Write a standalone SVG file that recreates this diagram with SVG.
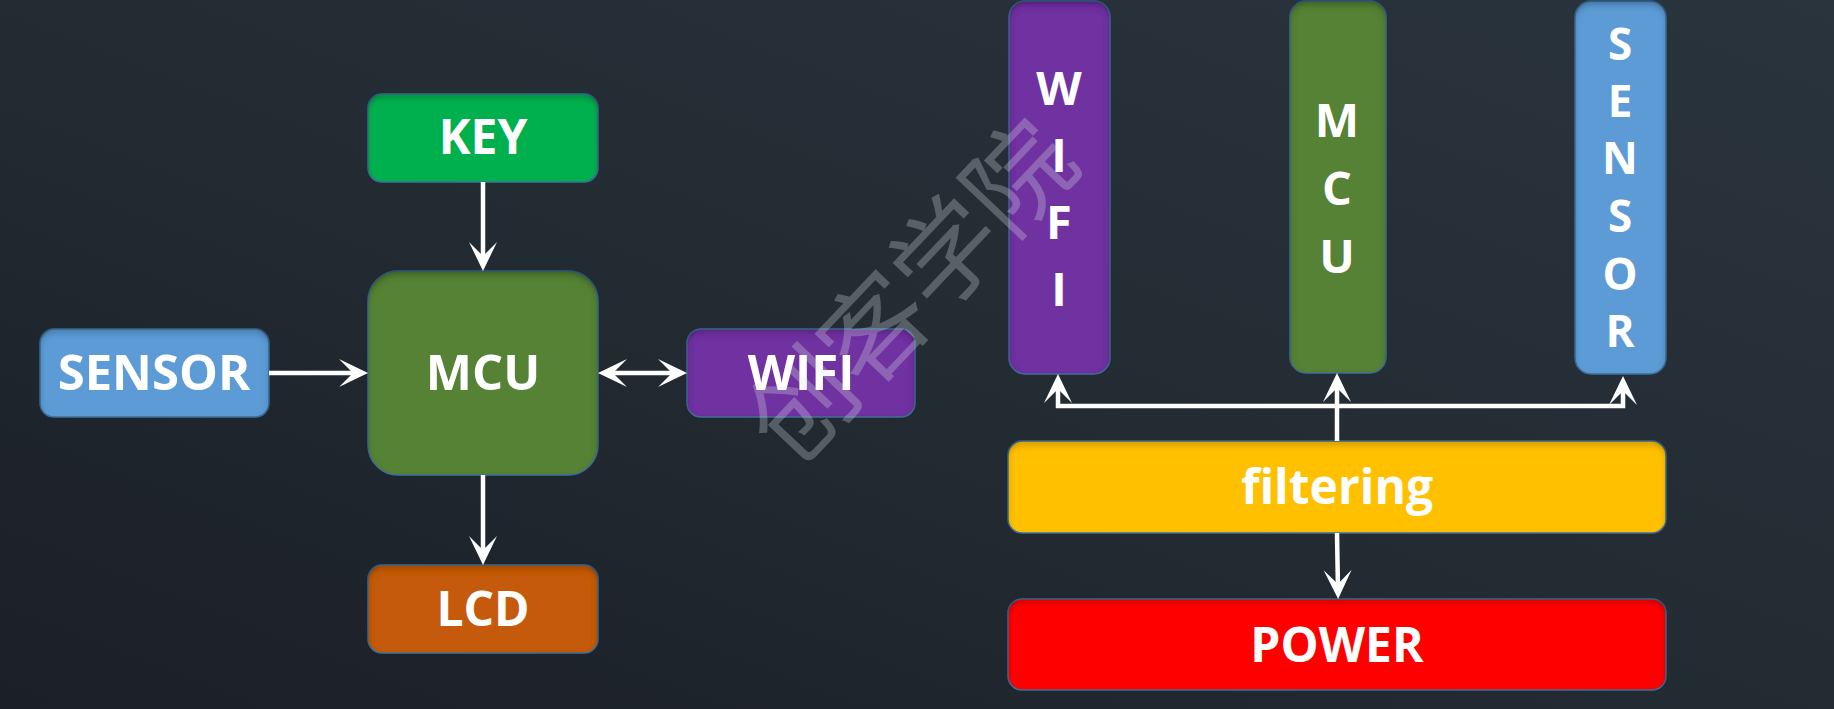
<svg xmlns="http://www.w3.org/2000/svg" width="1834" height="709" viewBox="0 0 1834 709">
<defs>
<linearGradient id="bg" x1="0" y1="1" x2="1" y2="0">
<stop offset="0" stop-color="#1b1f26"/>
<stop offset="0.5" stop-color="#232b33"/>
<stop offset="1" stop-color="#2a343c"/>
</linearGradient>
<filter id="inset" x="-5%" y="-5%" width="110%" height="110%">
<feFlood flood-color="#000" flood-opacity="0.55"/>
<feComposite in2="SourceAlpha" operator="out"/>
<feGaussianBlur stdDeviation="3"/>
<feOffset dy="4"/>
<feComposite in2="SourceAlpha" operator="in" result="sh"/>
<feMerge><feMergeNode in="SourceGraphic"/><feMergeNode in="sh"/></feMerge>
</filter>
<marker id="ah" viewBox="-31 -15 33 30" refX="-8" refY="0" markerWidth="33" markerHeight="30" markerUnits="userSpaceOnUse" orient="auto-start-reverse">
<path d="M0,0 L-29,-14 L-15,0 L-29,14 Z" fill="#fff"/>
</marker>
<style>
.box{stroke:#41719c;stroke-width:1.5;filter:url(#inset)}
.lbl{font-family:"Open Sans","Liberation Sans",sans-serif;font-weight:bold;fill:#fff;text-anchor:middle}
.con{stroke:#fff;stroke-width:4.5;fill:none}
</style>
</defs>
<rect width="1834" height="709" fill="url(#bg)"/>

<g id="key"><rect class="box" x="368" y="94" width="230" height="88" rx="14" fill="#00b050"/><text class="lbl" x="483" y="154" font-size="48">KEY</text></g>
<g id="mcu"><rect class="box" x="368" y="271" width="230" height="204" rx="30" fill="#548235"/><text class="lbl" x="483" y="390" font-size="49">MCU</text></g>
<g id="sensor"><rect class="box" x="40" y="329" width="229" height="88" rx="14" fill="#5b9bd5"/><text class="lbl" x="154" y="390" font-size="49">SENSOR</text></g>
<g id="wifi"><rect class="box" x="687" y="329" width="228" height="88" rx="14" fill="#7030a0"/><text class="lbl" x="801" y="390" font-size="49">WIFI</text></g>
<g id="lcd"><rect class="box" x="368" y="565" width="230" height="88" rx="14" fill="#c55a11"/><text class="lbl" x="483" y="626" font-size="48">LCD</text></g>

<g id="wifi-v"><rect class="box" x="1009" y="1" width="101" height="373" rx="16" fill="#7030a0"/>
<text class="lbl" font-size="47"><tspan x="1059" y="105">W</tspan><tspan x="1059" y="172">I</tspan><tspan x="1059" y="239">F</tspan><tspan x="1059" y="306">I</tspan></text></g>
<g id="mcu-v"><rect class="box" x="1290" y="1" width="96" height="372" rx="16" fill="#548235"/>
<text class="lbl" font-size="47"><tspan x="1337" y="137">M</tspan><tspan x="1337" y="205">C</tspan><tspan x="1337" y="273">U</tspan></text></g>
<g id="sensor-v"><rect class="box" x="1575" y="1" width="91" height="373" rx="16" fill="#5b9bd5"/>
<text class="lbl" font-size="44"><tspan x="1620" y="60">S</tspan><tspan x="1620" y="117">E</tspan><tspan x="1620" y="174">N</tspan><tspan x="1620" y="232">S</tspan><tspan x="1620" y="290">O</tspan><tspan x="1620" y="347">R</tspan></text></g>
<g id="filtering"><rect class="box" x="1008" y="441" width="658" height="92" rx="14" fill="#ffc000"/><text class="lbl" x="1337" y="504" font-size="48">filtering</text></g>
<g id="power"><rect class="box" x="1008" y="599" width="658" height="91" rx="14" fill="#ff0000"/><text class="lbl" x="1337" y="662" font-size="48">POWER</text></g>

<g id="connectors">
<line class="con" x1="483" y1="182" x2="483" y2="263" marker-end="url(#ah)"/>
<line class="con" x1="269" y1="373" x2="360" y2="373" marker-end="url(#ah)"/>
<line class="con" x1="606" y1="373" x2="679" y2="373" marker-start="url(#ah)" marker-end="url(#ah)"/>
<line class="con" x1="483" y1="475" x2="483" y2="557" marker-end="url(#ah)"/>
<line class="con" x1="1337" y1="533" x2="1338" y2="591" marker-end="url(#ah)"/>
<line class="con" x1="1337" y1="441" x2="1337" y2="381" marker-end="url(#ah)"/>
<polyline class="con" points="1058,382 1058,406 1623,406 1623,384" marker-start="url(#ah)" marker-end="url(#ah)"/>
</g>

<text x="905" y="286" transform="rotate(-46.5 905 286)" font-family="'Noto Sans CJK SC',sans-serif" font-weight="400" font-size="105" fill="#e0e6ec" fill-opacity="0.28" text-anchor="middle" dominant-baseline="central">创客学院</text>
</svg>
